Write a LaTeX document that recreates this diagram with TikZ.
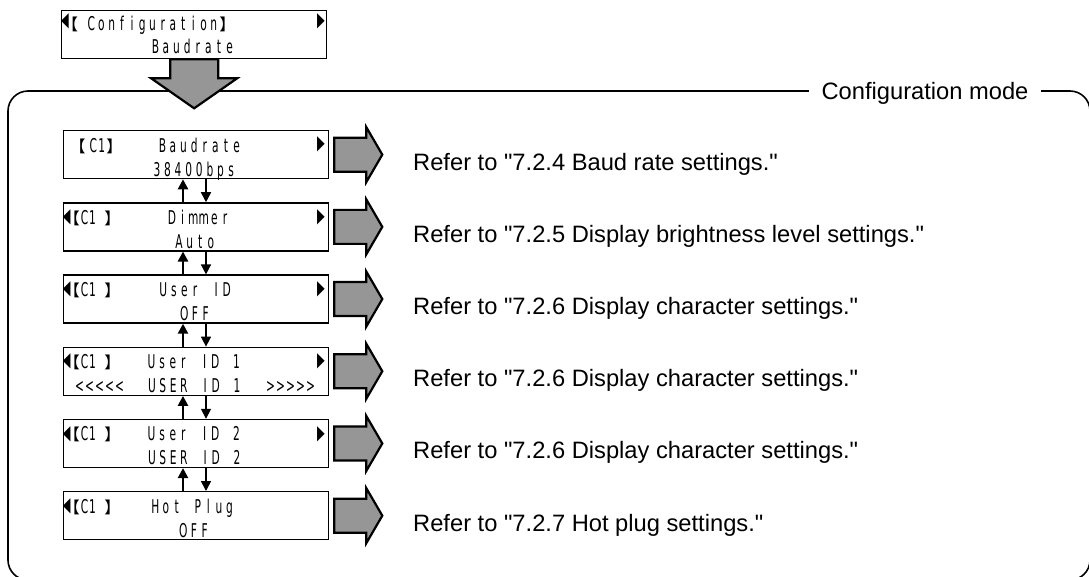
\documentclass[tikz,border=0pt]{standalone}
\usepackage{fontspec}
\setmainfont{Liberation Sans}[Ligatures=TeXOff]
\newfontfamily\lcdfont[FakeStretch=0.56]{DejaVu Sans}
\newfontfamily\cjkfont[RawFeature=+palt]{Noto Sans CJK JP}
\newfontfamily\symfont[FakeStretch=0.5]{DejaVu Sans}
\usetikzlibrary{arrows.meta,calc}
\ExplSyntaxOn
\NewDocumentCommand\lcdstr{O{10.6pt}m}{\tl_map_inline:nn{#2}{\makebox[#1][c]{##1}}}
\ExplSyntaxOff
\definecolor{arrgray}{RGB}{150,150,150}
\tikzset{
  lcdbox/.style={draw, line width=1.3pt, minimum width=265pt, minimum height=48pt, inner sep=0pt, anchor=north west},
  lcdtxt/.style={font=\lcdfont\fontsize{19}{20}\selectfont, inner sep=0pt, anchor=base},
  brk/.style={font=\cjkfont\fontsize{16}{16}\selectfont, inner sep=0pt, anchor=base west},
  tri/.style={font=\symfont\fontsize{20}{20}\selectfont, inner sep=0pt, anchor=center},
  reftxt/.style={font=\fontsize{23.7}{28}\selectfont, inner sep=0pt, anchor=base west},
  gstyle/.style={draw=black, fill=arrgray, line width=2.2pt, line join=miter},
  garrow/.pic={\draw[gstyle] (0,-17) -- (32,-17) -- (32,-27.5) -- (48,0) -- (32,27.5) -- (32,17) -- (0,17) -- cycle;},
  uparr/.style={line width=2.4pt, -{Triangle[width=10pt,length=10pt]}},
  dnarr/.style={line width=1.6pt, -{Triangle[width=10pt,length=10pt]}},
  frame/.style={draw, line width=1.6pt, rounded corners=20pt}
}
\begin{document}
\begin{tikzpicture}[x=1pt,y=-1pt]
\useasboundingbox (0,0) rectangle (1089,576);
% frame
\draw[frame] (8,91) rectangle (1090,580);
\node[fill=white, inner xsep=13pt, inner ysep=2pt, font=\fontsize{23.7}{28}\selectfont, anchor=base] (mode) at (925,99) {Configuration mode};

% top box
\node[lcdbox] (top) at (61,10) {};
\node[tri] (tl0) at (65,21.5) {◀};
\node[brk] (tb0) at (69.5,30) {【};
\node[lcdtxt] (tt0) at (152.5,30) {\lcdstr[10.2pt]{Configuration}};
\node[brk] (te0) at (219.5,30) {】};
\node[tri] (tr0) at (321,21.5) {▶};
\node[lcdtxt] (tv0) at (192.5,53) {\lcdstr{Baudrate}};
\draw[gstyle] (top.south) ++(-24,0) -- ++(48,0) -- ++(0,19) -- ++(19,0) -- ++(-43,30) -- ++(-43,-30) -- ++(19,0) -- cycle;

% rows
\node[lcdbox] (r1) at (63,130) {};
\node[lcdbox] (r2) at (63,202.2) {};
\node[lcdbox] (r3) at (63,274.4) {};
\node[lcdbox] (r4) at (63,346.6) {};
\node[lcdbox] (r5) at (63,418.8) {};
\node[lcdbox] (r6) at (63,491) {};

% row 1
\node[brk] (b1) at (77,152) {【};
\node[lcdtxt] (c1) at (97.5,152) {\lcdstr[8.4pt]{C1}};
\node[brk] (e1) at (106.5,152) {】};
\node[lcdtxt] (n1) at (199.5,152) {\lcdstr{Baudrate}};
\node[tri] (rt1) at (321,144.5) {▶};
\node[lcdtxt] (v1) at (194,176) {\lcdstr{38400bps}};
% rows 2-6 common
\foreach \T/\k in {202.2/2,274.4/3,346.6/4,418.8/5,491/6}{
  \node[tri] (lt\k) at (66.8,\T+15) {◀};
  \node[brk] (b\k) at (71.2,\T+22) {【};
  \node[lcdtxt] (c\k) at (88.5,\T+22) {\lcdstr[8pt]{C1}};
  \node[brk] (e\k) at (104.5,\T+22) {】};
}
\foreach \T/\k in {202.2/2,274.4/3,346.6/4,418.8/5}{
  \node[tri] (rt\k) at (321,\T+15) {▶};
}
\node[lcdtxt] (n2) at (198.5,224.2) {\lcdstr{Dimmer}};
\node[lcdtxt] (v2) at (195,248.2) {\lcdstr{Auto}};
\node[lcdtxt] (n3) at (195,296.4) {\lcdstr{User~ID}};
\node[lcdtxt] (v3) at (195,320.4) {\lcdstr{OFF}};
\node[lcdtxt] (n4) at (194,368.6) {\lcdstr{User~ID~1}};
\node[lcdtxt] (v4a) at (99.5,392.6) {\lcdstr[10pt]{<<<<<}};
\node[lcdtxt] (v4) at (194.5,392.6) {\lcdstr{USER~ID~1}};
\node[lcdtxt] (v4b) at (290.5,392.6) {\lcdstr[10pt]{>>>>>}};
\node[lcdtxt] (n5) at (194,440.8) {\lcdstr{User~ID~2}};
\node[lcdtxt] (v5) at (194.5,464.8) {\lcdstr{USER~ID~2}};
\node[lcdtxt] (n6) at (192.5,513) {\lcdstr{Hot~Plug}};
\node[lcdtxt] (v6) at (194,537) {\lcdstr{OFF}};

% up/down arrows
\coordinate (ux) at (183,0);
\coordinate (dx) at (206,0);
\foreach \a/\b in {r1/r2,r2/r3,r3/r4,r4/r5,r5/r6}{
  \draw[uparr] (ux |- \b.north) -- (ux |- \a.south);
  \draw[dnarr] (dx |- \a.south) -- (dx |- \b.north);
}

% gray arrows and texts
\foreach \k in {1,...,6}{
  \pic at ($(r\k.east)+(5,0)$) {garrow};
}
\node[reftxt] (t1) at (413,170) {Refer to "7.2.4 Baud rate settings."};
\node[reftxt] (t2) at (413,242.2) {Refer to "7.2.5 Display brightness level settings."};
\node[reftxt] (t3) at (413,314.4) {Refer to "7.2.6 Display character settings."};
\node[reftxt] (t4) at (413,386.6) {Refer to "7.2.6 Display character settings."};
\node[reftxt] (t5) at (413,458.8) {Refer to "7.2.6 Display character settings."};
\node[reftxt] (t6) at (413,531) {Refer to "7.2.7 Hot plug settings."};
\end{tikzpicture}
\end{document}
